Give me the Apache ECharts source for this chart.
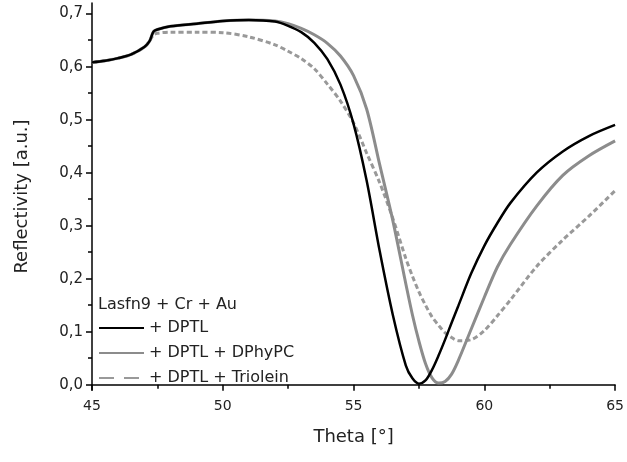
<!DOCTYPE html>
<html>
<head>
<meta charset="utf-8">
<script src="https://cdn.jsdelivr.net/npm/echarts@6/dist/echarts.min.js"></script>
<style>
  html, body { margin: 0; padding: 0; background: #fff; }
  #chart { width: 627px; height: 462px; }
</style>
</head>
<body>
<div id="chart"></div>
<script>
// Theta in degrees
var theta = [45, 45.5, 46, 46.5, 47, 47.2, 47.35, 47.5, 48, 49, 50, 51, 52, 52.5, 53, 53.5, 54, 54.5, 55, 55.5,
  56, 56.5, 57, 57.25, 57.5, 57.75, 58, 58.25, 58.5, 58.75, 59, 59.5, 60, 60.5, 61, 62, 63, 64, 65];

var dptl = [0.608, 0.611, 0.616, 0.623, 0.637, 0.648, 0.666, 0.670, 0.676, 0.681, 0.686, 0.688, 0.685, 0.677, 0.665, 0.645, 0.614, 0.566, 0.492, 0.385,
  0.252, 0.132, 0.036, 0.012, 0.002, 0.008, 0.028, 0.055, 0.085, 0.117, 0.148, 0.210, 0.262, 0.305, 0.343, 0.400, 0.440, 0.469, 0.490];

var dphypc = [0.608, 0.611, 0.616, 0.623, 0.637, 0.648, 0.666, 0.670, 0.676, 0.681, 0.686, 0.688, 0.686, 0.681, 0.672, 0.660, 0.644, 0.620, 0.583, 0.520,
  0.415, 0.310, 0.190, 0.132, 0.082, 0.040, 0.013, 0.003, 0.006, 0.020, 0.045, 0.105, 0.165, 0.222, 0.265, 0.337, 0.395, 0.432, 0.460];

var triolein = [0.608, 0.611, 0.616, 0.623, 0.637, 0.648, 0.660, 0.663, 0.665, 0.665, 0.664, 0.656, 0.641, 0.629, 0.615, 0.596, 0.567, 0.535, 0.494, 0.437,
  0.381, 0.314, 0.238, 0.205, 0.175, 0.150, 0.128, 0.112, 0.098, 0.089, 0.083, 0.085, 0.102, 0.130, 0.160, 0.223, 0.273, 0.318, 0.366];

var yLabels = [0, 0.1, 0.2, 0.3, 0.4, 0.5, 0.6, 0.7];
var yMinor = [0.05, 0.15, 0.25, 0.35, 0.45, 0.55, 0.65];
var names = ['+ DPTL', '+ DPTL + DPhyPC', '+ DPTL + Triolein'];

function pairs(ys) {
  return theta.map(function (t, i) { return [t, ys[i]]; });
}

var font = 'DejaVu Sans';
var chart = echarts.init(document.getElementById('chart'));

chart.setOption({
  animation: false,
  title: {
    text: 'Lasfn9 + Cr + Au',
    left: 98,
    top: 297,
    padding: 0,
    textStyle: { fontFamily: font, fontSize: 16, fontWeight: 'normal', color: '#222' }
  },
  legend: {
    orient: 'vertical',
    left: 98,
    top: 320,
    padding: 0,
    itemWidth: 45,
    itemHeight: 14,
    itemGap: 9,
    itemStyle: { opacity: 0 },
    textStyle: { fontFamily: font, fontSize: 16, color: '#222' },
    data: [
      { name: names[0] },
      { name: names[1] },
      { name: names[2], lineStyle: { type: [15, 10] } }
    ]
  },
  grid: { left: 92, right: 8, top: 3, bottom: 72 },
  xAxis: {
    type: 'value',
    min: 45,
    max: 65,
    interval: 5,
    name: 'Theta [°]',
    nameLocation: 'middle',
    nameGap: 38,
    nameTextStyle: { fontFamily: font, fontSize: 18, color: '#222' },
    axisLine: { lineStyle: { color: '#000', width: 1.5 } },
    axisTick: { length: 6, lineStyle: { color: '#000', width: 1.5 } },
    minorTick: { show: true, splitNumber: 2, length: 4, lineStyle: { color: '#000', width: 1.5 } },
    axisLabel: { fontFamily: font, fontSize: 14, color: '#222', margin: 9 },
    splitLine: { show: false }
  },
  yAxis: [
    {
      type: 'value',
      min: -0.01,
      max: 0.72,
      name: 'Reflectivity [a.u.]',
      nameLocation: 'middle',
      nameGap: 61,
      nameTextStyle: { fontFamily: font, fontSize: 18, color: '#222' },
      axisLine: { show: true, lineStyle: { color: '#000', width: 1.5 } },
      axisTick: { show: true, length: 6, customValues: yLabels, lineStyle: { color: '#000', width: 1.5 } },
      axisLabel: {
        customValues: yLabels,
        fontFamily: font, fontSize: 15, color: '#222', margin: 9,
        formatter: function (v) { return v.toFixed(1).replace('.', ','); }
      },
      splitLine: { show: false }
    },
    {
      // only the short in-between ticks
      type: 'value',
      min: -0.01,
      max: 0.72,
      position: 'left',
      axisLine: { show: false },
      axisTick: { show: true, length: 4, customValues: yMinor, lineStyle: { color: '#000', width: 1.5 } },
      axisLabel: { show: false },
      splitLine: { show: false }
    }
  ],
  series: [
    {
      name: names[0],
      type: 'line',
      data: pairs(dptl),
      smooth: 0.3,
      showSymbol: false,
      symbol: 'none',
      lineStyle: { color: '#000', width: 2.5 },
      itemStyle: { color: '#000' },
      z: 3
    },
    {
      name: names[1],
      type: 'line',
      data: pairs(dphypc),
      smooth: 0.3,
      showSymbol: false,
      symbol: 'none',
      lineStyle: { color: '#8c8c8c', width: 3 },
      itemStyle: { color: '#8c8c8c' },
      z: 2
    },
    {
      name: names[2],
      type: 'line',
      data: pairs(triolein),
      smooth: 0.3,
      showSymbol: false,
      symbol: 'none',
      lineStyle: { color: '#999', width: 3, type: [5, 3] },
      itemStyle: { color: '#999' },
      z: 1
    }
  ]
});
</script>
</body>
</html>
